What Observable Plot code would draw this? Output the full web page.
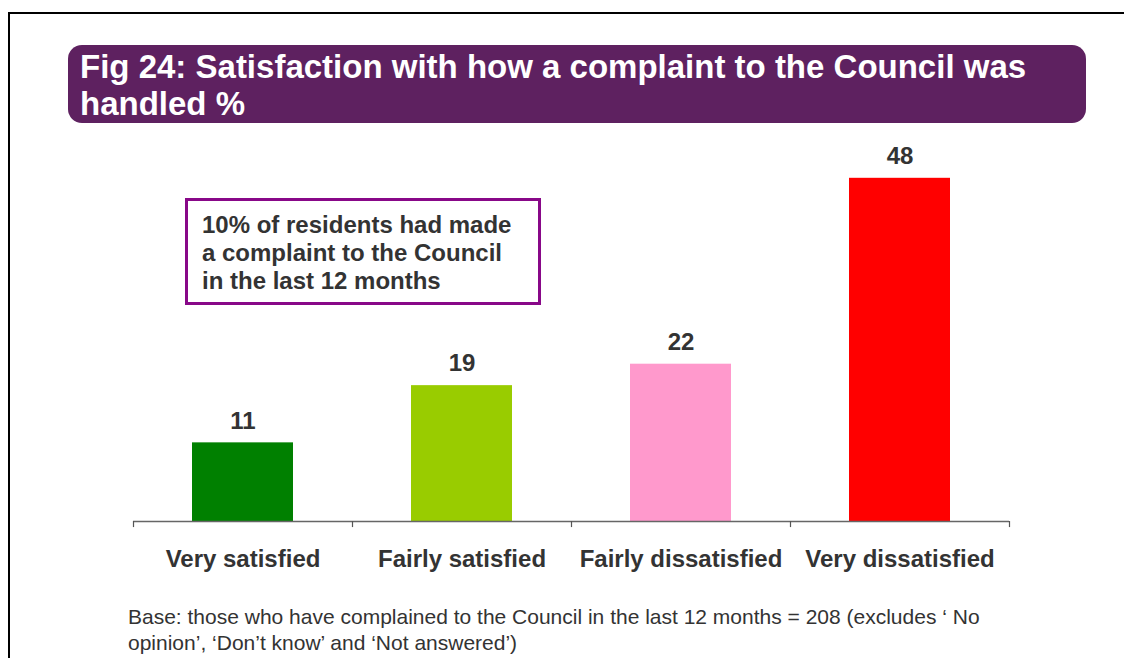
<!DOCTYPE html>
<html>
<head>
<meta charset="utf-8">
<script src="https://cdn.jsdelivr.net/npm/d3@7"></script>
<script src="https://cdn.jsdelivr.net/npm/@observablehq/plot@0.6"></script>
<style>
  html, body { margin: 0; padding: 0; background: #fff; }
  body { width: 1124px; height: 658px; position: relative; overflow: hidden;
         font-family: "Liberation Sans", Arial, sans-serif; }
  #frame { position: absolute; left: 8px; top: 12px; width: 1130px; height: 660px;
           border-top: 2px solid #000; border-left: 2px solid #000; }
  #title { position: absolute; left: 68px; top: 45px; width: 1018px; height: 78px;
           background: #5E2160; border-radius: 14px; box-sizing: border-box; }
  #title div { position: absolute; left: 12px; top: 3px; color: #fff; font-weight: bold;
               font-size: 33px; line-height: 37px; white-space: nowrap; }
  #note { position: absolute; left: 185px; top: 198px; width: 356px; height: 107px;
          border: 3px solid #880888; box-sizing: border-box; padding: 10px 0 0 14px;
          font-weight: bold; font-size: 24px; line-height: 28px; color: #333; background: #fff; }
  #chart { position: absolute; left: 0; top: 0; }
  #foot { position: absolute; left: 128px; top: 604px; font-size: 21px; line-height: 26px; color: #333; }
</style>
</head>
<body>
<div id="frame"></div>
<div id="chart"></div>
<div id="title"><div>Fig 24: Satisfaction with how a complaint to the Council was<br>handled %</div></div>
<div id="note">10% of residents had made<br>a complaint to the Council<br>in the last 12 months</div>
<div id="foot">Base: those who have complained to the Council in the last 12 months = 208 (excludes ‘ No<br>opinion’, ‘Don’t know’ and ‘Not answered’)</div>
<script>
const categories = ["Very satisfied", "Fairly satisfied", "Fairly dissatisfied", "Very dissatisfied"];
const values = [11, 19, 22, 48];
const colors = ["#008000", "#99CC00", "#FF99CC", "#FF0000"];

const data = categories.map((c, i) => ({category: c, value: values[i], color: colors[i]}));

const W = 1124, H = 658, mL = 133, mR = 115, mT = 163.5, mB = 137;
const step = (W - mL - mR) / categories.length;

const chart = Plot.plot({
  width: W,
  height: H,
  marginLeft: mL,
  marginRight: mR,
  marginTop: mT,
  marginBottom: mB,
  style: {fontFamily: "'Liberation Sans', Arial, sans-serif", background: "transparent", overflow: "visible"},
  x: {domain: categories, paddingInner: 0.54, paddingOuter: 0.27},
  y: {domain: [0, 50], axis: null},
  marks: [
    Plot.barY(data, {x: "category", y: "value", fill: "color"}),
    Plot.ruleY([0], {stroke: "#666", strokeWidth: 1.5}),
    Plot.ruleX(categories, {x: d => d, dx: -step / 2, y1: 0, y2: -0.85, stroke: "#555", strokeWidth: 1.2}),
    Plot.ruleX(categories.slice(-1), {x: d => d, dx: step / 2, y1: 0, y2: -0.85, stroke: "#555", strokeWidth: 1.2}),
    Plot.text(data, {x: "category", y: "value", text: d => String(d.value), dy: -22,
      fontSize: 24, fontWeight: "bold", fill: "#333"}),
    Plot.axisX({tickSize: 0, tickPadding: 28, fontSize: 24, fontWeight: "bold", fill: "#333", label: null})
  ]
});
document.getElementById("chart").appendChild(chart);
</script>
</body>
</html>
